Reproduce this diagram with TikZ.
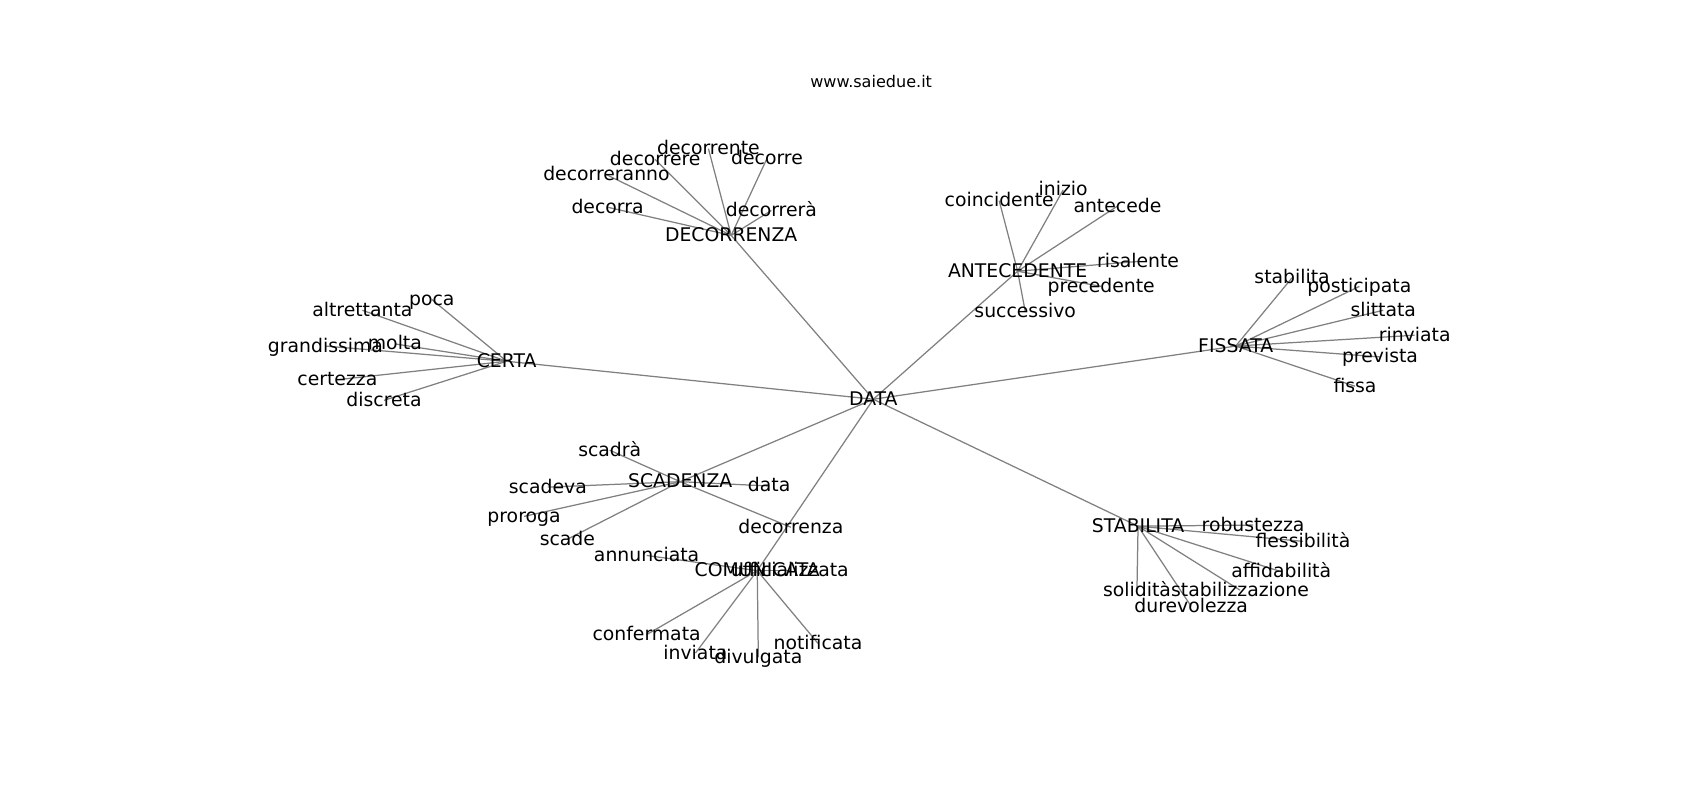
\documentclass[tikz,border=0pt]{standalone}
\usepackage{fontspec}
\setmainfont{DejaVu Sans}
\usetikzlibrary{backgrounds}
\tikzset{
    %Define style for words
    wordnode/.style={
             inner sep=0pt,
             text height=1.1em, text depth=0.24em,
             font=\fontsize{13.6}{16}\selectfont},
    titlenode/.style={
             inner sep=0pt,
             font=\fontsize{11.6}{14}\selectfont},
    % Define edge style
    wordedge/.style={
            draw=gray,
            line width=0.9pt}
}

\begin{document}
\begin{tikzpicture}[x=0.02755cm, y=-0.02755cm]
    \useasboundingbox (0,0) rectangle (1567,737);
    \node[titlenode] (title) at (803,75) {www.saiedue.it};
    % centre and hubs
    \node[wordnode] (data) at (805,368) {DATA};
    \node[wordnode] (certa) at (467,333) {CERTA};
    \node[wordnode] (decorrenza) at (674,217) {DECORRENZA};
    \node[wordnode] (antecedente) at (938,250) {ANTECEDENTE};
    \node[wordnode] (fissata) at (1139,319) {FISSATA};
    \node[wordnode] (stabilita) at (1049,485) {STABILITA};
    \node[wordnode] (scadenza) at (627,444) {SCADENZA};
    \node[wordnode] (comunicata) at (698,526) {COMUNICATA};
    % certa
    \node[wordnode] (poca) at (398,276) {poca};
    \node[wordnode] (altrettanta) at (334,286) {altrettanta};
    \node[wordnode] (grandissima) at (300,319) {grandissima};
    \node[wordnode] (molta) at (364,317) {molta};
    \node[wordnode] (certezza) at (311,350) {certezza};
    \node[wordnode] (discreta) at (354,369) {discreta};
    % decorrenza
    \node[wordnode] (decorrente) at (653,137) {decorrente};
    \node[wordnode] (decorrere) at (604,147) {decorrere};
    \node[wordnode] (decorre) at (707,146) {decorre};
    \node[wordnode] (decorreranno) at (559,161) {decorreranno};
    \node[wordnode] (decorra) at (560,191) {decorra};
    \node[wordnode] (decorrera) at (711,194) {decorrerà};
    % antecedente
    \node[wordnode] (coincidente) at (921,185) {coincidente};
    \node[wordnode] (inizio) at (980,175) {inizio};
    \node[wordnode] (antecede) at (1030,190) {antecede};
    \node[wordnode] (risalente) at (1049,241) {risalente};
    \node[wordnode] (precedente) at (1015,264) {precedente};
    \node[wordnode] (successivo) at (945,287) {successivo};
    % fissata
    \node[wordnode] (stabilita2) at (1191,256) {stabilita};
    \node[wordnode] (posticipata) at (1253,264) {posticipata};
    \node[wordnode] (slittata) at (1275,286) {slittata};
    \node[wordnode] (rinviata) at (1304,309) {rinviata};
    \node[wordnode] (prevista) at (1272,329) {prevista};
    \node[wordnode] (fissa) at (1249,356) {fissa};
    % stabilita
    \node[wordnode] (robustezza) at (1155,484) {robustezza};
    \node[wordnode] (flessibilita) at (1201,499) {flessibilità};
    \node[wordnode] (affidabilita) at (1181,527) {affidabilità};
    \node[wordnode] (solidita) at (1048,544) {solidità};
    \node[wordnode] (stabilizzazione) at (1143,544) {stabilizzazione};
    \node[wordnode] (durevolezza) at (1098,559) {durevolezza};
    % scadenza
    \node[wordnode] (scadra) at (562,415) {scadrà};
    \node[wordnode] (scadeva) at (505,449) {scadeva};
    \node[wordnode] (proroga) at (483,476) {proroga};
    \node[wordnode] (scade) at (523,497) {scade};
    \node[wordnode] (data2) at (709,448) {data};
    \node[wordnode] (decorrenza2) at (729,486) {decorrenza};
    % comunicata
    \node[wordnode] (annunciata) at (596,512) {annunciata};
    \node[wordnode] (ufficializzata) at (728,526) {ufficializzata};
    \node[wordnode] (confermata) at (596,585) {confermata};
    \node[wordnode] (inviata) at (641,602) {inviata};
    \node[wordnode] (divulgata) at (699,606) {divulgata};
    \node[wordnode] (notificata) at (754,593) {notificata};
    \begin{scope}[on background layer]
    \path (data.center) edge[wordedge] (certa.center)
    (data.center) edge[wordedge] (decorrenza.center)
    (data.center) edge[wordedge] (antecedente.center)
    (data.center) edge[wordedge] (fissata.center)
    (data.center) edge[wordedge] (stabilita.center)
    (data.center) edge[wordedge] (scadenza.center)
    (data.center) edge[wordedge] (comunicata.center)
    (certa.center) edge[wordedge] (poca.center)
    (certa.center) edge[wordedge] (altrettanta.center)
    (certa.center) edge[wordedge] (grandissima.center)
    (certa.center) edge[wordedge] (molta.center)
    (certa.center) edge[wordedge] (certezza.center)
    (certa.center) edge[wordedge] (discreta.center)
    (decorrenza.center) edge[wordedge] (decorrente.center)
    (decorrenza.center) edge[wordedge] (decorrere.center)
    (decorrenza.center) edge[wordedge] (decorre.center)
    (decorrenza.center) edge[wordedge] (decorreranno.center)
    (decorrenza.center) edge[wordedge] (decorra.center)
    (decorrenza.center) edge[wordedge] (decorrera.center)
    (antecedente.center) edge[wordedge] (coincidente.center)
    (antecedente.center) edge[wordedge] (inizio.center)
    (antecedente.center) edge[wordedge] (antecede.center)
    (antecedente.center) edge[wordedge] (risalente.center)
    (antecedente.center) edge[wordedge] (precedente.center)
    (antecedente.center) edge[wordedge] (successivo.center)
    (fissata.center) edge[wordedge] (stabilita2.center)
    (fissata.center) edge[wordedge] (posticipata.center)
    (fissata.center) edge[wordedge] (slittata.center)
    (fissata.center) edge[wordedge] (rinviata.center)
    (fissata.center) edge[wordedge] (prevista.center)
    (fissata.center) edge[wordedge] (fissa.center)
    (stabilita.center) edge[wordedge] (robustezza.center)
    (stabilita.center) edge[wordedge] (flessibilita.center)
    (stabilita.center) edge[wordedge] (affidabilita.center)
    (stabilita.center) edge[wordedge] (solidita.center)
    (stabilita.center) edge[wordedge] (stabilizzazione.center)
    (stabilita.center) edge[wordedge] (durevolezza.center)
    (scadenza.center) edge[wordedge] (scadra.center)
    (scadenza.center) edge[wordedge] (scadeva.center)
    (scadenza.center) edge[wordedge] (proroga.center)
    (scadenza.center) edge[wordedge] (scade.center)
    (scadenza.center) edge[wordedge] (data2.center)
    (scadenza.center) edge[wordedge] (decorrenza2.center)
    (comunicata.center) edge[wordedge] (annunciata.center)
    (comunicata.center) edge[wordedge] (ufficializzata.center)
    (comunicata.center) edge[wordedge] (confermata.center)
    (comunicata.center) edge[wordedge] (inviata.center)
    (comunicata.center) edge[wordedge] (divulgata.center)
    (comunicata.center) edge[wordedge] (notificata.center);
    \end{scope}
\end{tikzpicture}
\end{document}
